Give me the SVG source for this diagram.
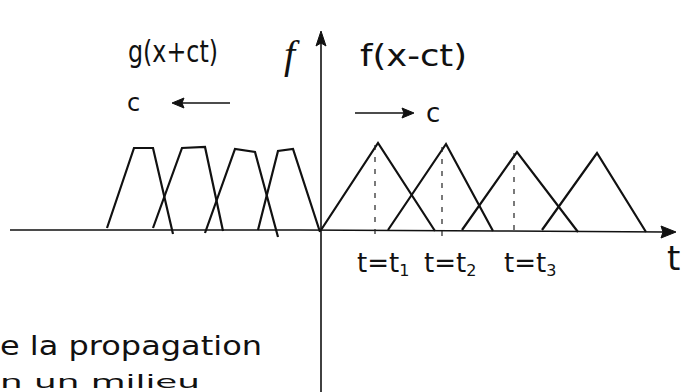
<svg xmlns="http://www.w3.org/2000/svg" width="699" height="392" viewBox="0 0 699 392">
<style>
.ax{stroke:#111;stroke-width:1.6;fill:none}
.cv{stroke:#111;stroke-width:2.2;fill:none;stroke-linejoin:miter}
.ds{stroke:#222;stroke-width:1.2;fill:none;stroke-dasharray:5 7}
.hd{fill:#111;stroke:#111;stroke-width:1}
.tx{font-family:"DejaVu Sans","Liberation Sans",sans-serif;fill:#111}
.fi{font-family:"Liberation Serif","DejaVu Serif",serif;font-style:italic;fill:#111}
</style>
<rect width="699" height="392" fill="#fff"/>
<g id="axes">
<path class="ax" d="M10 230 L300 230 L500 231 L664 232"/>
<path class="hd" d="M676 232 L661 226 L663 232 L661 238 Z"/>
<path class="ax" d="M321 392 L321 40"/>
<path class="hd" d="M321 31 L316 46 L321 43 L326 46 Z"/>
</g>
<g id="right-pulses">
<path class="cv" d="M321 230 L378 143 L435 231"/>
<path class="cv" d="M388 230 L446 144 L493 231"/>
<path class="cv" d="M462 230 L517 152 L578 232"/>
<path class="cv" d="M542 230 L597 153 L646 232"/>
<path class="ds" d="M375 145 L375 238"/>
<path class="ds" d="M442 147 L442 236"/>
<path class="ds" d="M514 153 L514 236"/>
</g>
<g id="left-pulses">
<path class="cv" d="M107 228 L134 148 L153 148 L173 234"/>
<path class="cv" d="M153 228 L182 148 L205 147 L223 231"/>
<path class="cv" d="M205 233 L235 149 L255 152 L278 237"/>
<path class="cv" d="M258 230 L278 151 L293 149 L320 232"/>
</g>
<g id="velocity-arrows">
<path class="ax" d="M180 103 L230 103"/>
<path class="hd" d="M172 103 L184 98 L182 103 L184 108 Z"/>
<path class="ax" d="M355 113 L404 113"/>
<path class="hd" d="M414 113 L402 108 L404 113 L402 118 Z"/>
</g>
<g id="labels">
<text class="tx" x="128" y="62" font-size="30" textLength="90" lengthAdjust="spacingAndGlyphs">g(x+ct)</text>
<text class="tx" x="360" y="66" font-size="30" textLength="107" lengthAdjust="spacingAndGlyphs">f(x-ct)</text>
<text class="fi" x="284" y="68" font-size="40">f</text>
<text class="tx" x="127" y="111" font-size="24">c</text>
<text class="tx" x="426" y="122" font-size="26">c</text>
<text class="tx" x="357" y="272" font-size="26">t=t<tspan font-size="16" dy="4">1</tspan></text>
<text class="tx" x="424" y="272" font-size="26">t=t<tspan font-size="16" dy="4">2</tspan></text>
<text class="tx" x="504" y="272" font-size="26">t=t<tspan font-size="16" dy="4">3</tspan></text>
<text class="tx" x="667" y="270" font-size="34">t</text>
<text class="tx" x="0" y="355" font-size="26" textLength="262" lengthAdjust="spacingAndGlyphs">e la propagation</text>
<text class="tx" x="0" y="388" font-size="18" textLength="200" lengthAdjust="spacingAndGlyphs">n un milieu</text>
</g>
</svg>
